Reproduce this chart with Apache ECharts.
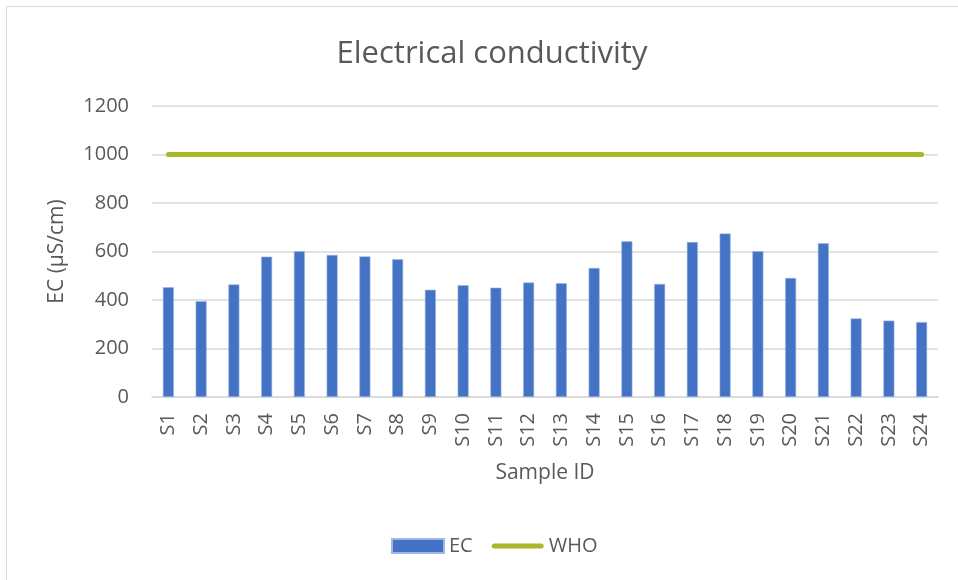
<!DOCTYPE html>
<html>
<head>
<meta charset="utf-8">
<title>Electrical conductivity</title>
<script src="https://cdn.jsdelivr.net/npm/echarts@6/dist/echarts.min.js"></script>
<style>
  html, body { margin: 0; padding: 0; background: #ffffff; }
  #chart { width: 958px; height: 580px; }
</style>
</head>
<body>
<div id="chart"></div>
<script>
// Sample identifiers along the x axis
const sampleIds = ['S1','S2','S3','S4','S5','S6','S7','S8','S9','S10','S11','S12',
                   'S13','S14','S15','S16','S17','S18','S19','S20','S21','S22','S23','S24'];

// Measured electrical conductivity (µS/cm) per sample
const ecValues = [453, 395, 464, 579, 601, 586, 580, 568, 442, 461, 451, 472,
                  469, 532, 642, 466, 639, 674, 601, 491, 634, 324, 315, 309];

// WHO guideline limit (µS/cm), one point per sample
const whoLimit = [1000, 1000, 1000, 1000, 1000, 1000, 1000, 1000, 1000, 1000, 1000, 1000,
                  1000, 1000, 1000, 1000, 1000, 1000, 1000, 1000, 1000, 1000, 1000, 1000];

// Value axis ticks
const yMin = 0, yMax = 1200, yStep = 200;

const textColor = '#595959';
const gridColor = '#d9d9d9';
const whoColor = '#a9b92b';
const font = '"Open Sans", "Noto Sans", sans-serif';

// Legend icon for the limit line: a thick rounded stroke centred in a 52x14 box
const whoIcon = 'path://M0,0M52,14M2.5,4.5L49.5,4.5A2.5,2.5 0 0 1 49.5,9.5L2.5,9.5A2.5,2.5 0 0 1 2.5,4.5Z';

const chart = echarts.init(document.getElementById('chart'), null, { renderer: 'canvas' });

chart.setOption({
  backgroundColor: '#ffffff',
  animation: false,
  textStyle: { fontFamily: font, color: textColor },
  graphic: [{
    type: 'rect',
    shape: { x: 6.5, y: 6.5, width: 1000, height: 1000 },
    style: { fill: 'none', stroke: '#d9d9d9', lineWidth: 1 },
    silent: true
  }],
  title: {
    text: 'Electrical conductivity',
    left: 487,
    textAlign: 'center',
    top: 34,
    textStyle: { fontFamily: font, fontSize: 31, fontWeight: 'normal', color: textColor }
  },
  legend: {
    left: 391,
    top: 536,
    padding: 0,
    itemWidth: 52,
    itemHeight: 14,
    itemGap: 19,
    textStyle: { fontFamily: font, fontSize: 20, color: textColor },
    data: [
      { name: 'EC', icon: 'rect' },
      { name: 'WHO', icon: whoIcon, itemStyle: { color: whoColor } }
    ]
  },
  grid: { left: 152, right: 20, top: 106, bottom: 183, containLabel: false },
  xAxis: {
    type: 'category',
    data: sampleIds,
    name: 'Sample ID',
    nameLocation: 'middle',
    nameGap: 66,
    nameTextStyle: { fontFamily: font, fontSize: 21, color: textColor },
    axisLine: { lineStyle: { color: gridColor, width: 1.5 } },
    axisTick: { show: false },
    axisLabel: { rotate: 90, margin: 16, fontSize: 20, color: textColor, fontFamily: font, interval: 0 }
  },
  yAxis: {
    type: 'value',
    min: yMin,
    max: yMax,
    interval: yStep,
    name: 'EC (µS/cm)',
    nameLocation: 'middle',
    nameGap: 84,
    nameTextStyle: { fontFamily: font, fontSize: 21, color: textColor },
    axisLine: { show: false },
    axisTick: { show: false },
    axisLabel: { margin: 23, fontSize: 20, color: textColor, fontFamily: font,
                 formatter: (v) => String(v) },
    splitLine: { lineStyle: { color: gridColor, width: 1.5 } }
  },
  series: [
    {
      name: 'EC',
      type: 'bar',
      data: ecValues,
      barWidth: 11,
      itemStyle: { color: '#4472c4', borderColor: '#9fb7e3', borderWidth: 0.6 }
    },
    {
      name: 'WHO',
      type: 'line',
      data: whoLimit,
      symbol: 'none',
      lineStyle: { color: whoColor, width: 5, cap: 'round' },
      itemStyle: { color: whoColor }
    }
  ]
});
</script>
</body>
</html>
